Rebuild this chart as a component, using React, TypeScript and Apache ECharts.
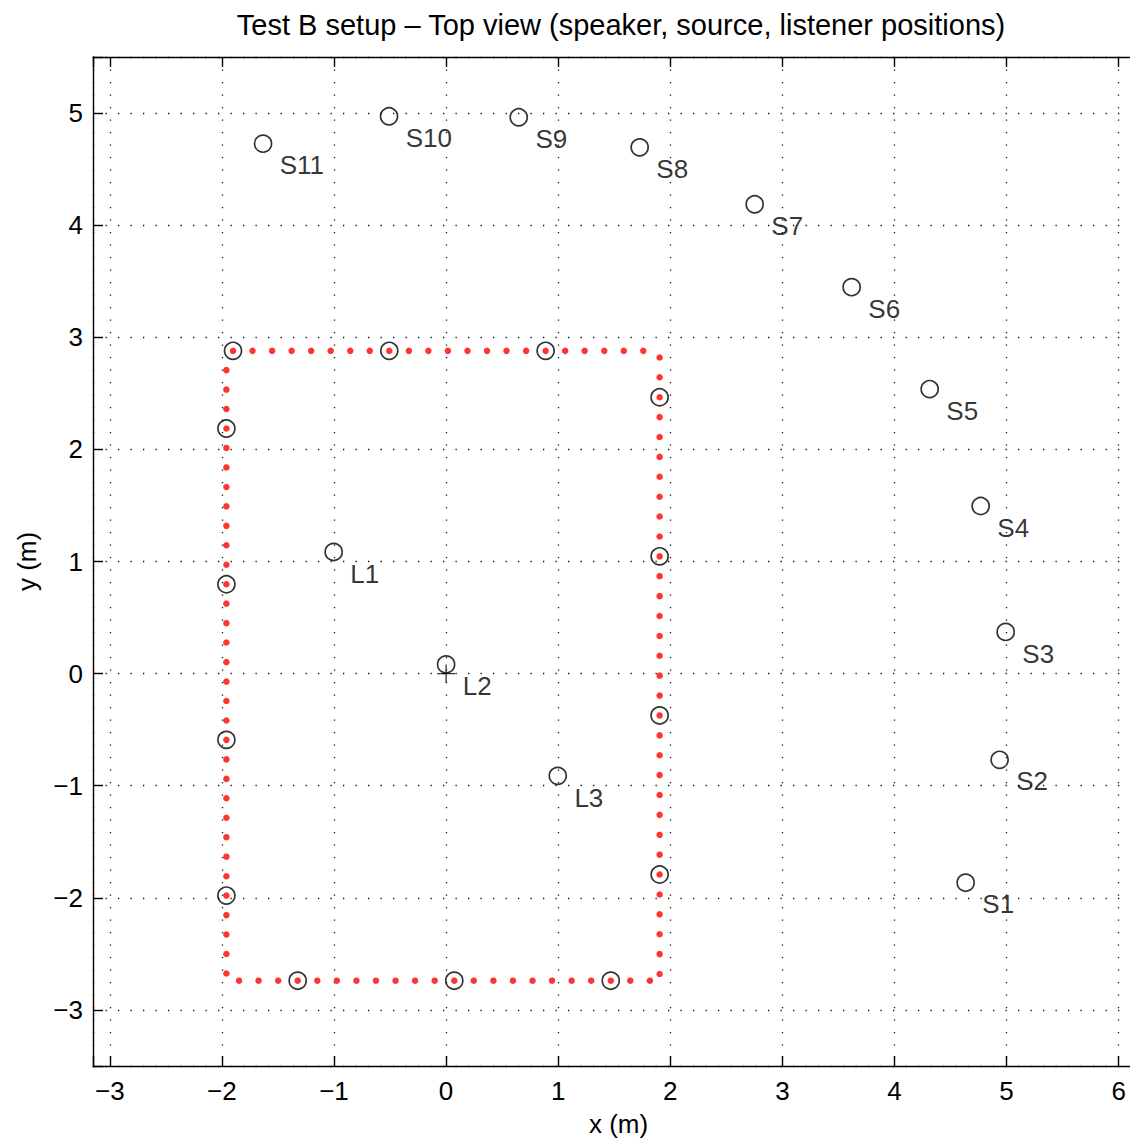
import React, { useEffect, useRef } from 'react';
import * as echarts from 'echarts';

// ---------- texts ----------
const titleText = 'Test B setup – Top view (speaker, source, listener positions)';
const xAxisName = 'x (m)';
const yAxisName = 'y (m)';

// ---------- axis ranges ----------
const X_MIN = -3.15;
const X_MAX = 6.226;
const Y_MIN = -3.5;
const Y_MAX = 5.5;

// ---------- speakers (S1..S11) ----------
const speakerLabels = ['S1', 'S2', 'S3', 'S4', 'S5', 'S6', 'S7', 'S8', 'S9', 'S10', 'S11'];
const speakerX = [4.635, 4.938, 4.992, 4.769, 4.314, 3.618, 2.753, 1.727, 0.648, -0.509, -1.633];
const speakerY = [-1.865, -0.769, 0.372, 1.495, 2.538, 3.447, 4.186, 4.694, 4.962, 4.971, 4.727];

// ---------- listeners (L1..L3) ----------
const listenerLabels = ['L1', 'L2', 'L3'];
const listenerX = [-1.003, 0.0, 0.996];
const listenerY = [1.085, 0.082, -0.912];

// ---------- reference point (+) ----------
const originX = [0];
const originY = [0];

// ---------- loudspeaker array (red dots) ----------
const arrayTopY = 2.879;
const arrayTopX = [
  -1.901, -1.727, -1.552, -1.378, -1.204, -1.03, -0.855, -0.681, -0.507, -0.332, -0.158,
  0.016, 0.191, 0.365, 0.539, 0.714, 0.888, 1.062, 1.236, 1.411, 1.585, 1.759,
];
const arrayBottomY = -2.739;
const arrayBottomX = [
  -1.847, -1.673, -1.498, -1.324, -1.149, -0.975, -0.8, -0.626, -0.451, -0.277, -0.102,
  0.073, 0.247, 0.422, 0.596, 0.771, 0.945, 1.12, 1.294, 1.469, 1.643, 1.818,
];
const arrayLeftX = -1.96;
const arrayLeftY = [
  2.707, 2.533, 2.36, 2.186, 2.013, 1.839, 1.665, 1.492, 1.318, 1.145, 0.971, 0.797,
  0.624, 0.45, 0.277, 0.103, -0.071, -0.244, -0.418, -0.591, -0.765, -0.939, -1.112,
  -1.286, -1.459, -1.633, -1.807, -1.98, -2.154, -2.327, -2.501, -2.675,
];
const arrayRightX = 1.905;
const arrayRightY = [
  2.82, 2.643, 2.465, 2.288, 2.11, 1.933, 1.756, 1.578, 1.401, 1.223, 1.046, 0.869,
  0.691, 0.514, 0.336, 0.159, -0.018, -0.196, -0.373, -0.551, -0.728, -0.905, -1.083,
  -1.26, -1.438, -1.615, -1.792, -1.97, -2.147, -2.325, -2.502, -2.679,
];

// ---------- sources on the array (open circles) ----------
const sourceX = [-1.901, -0.507, 0.888, 1.905, 1.905, 1.905, 1.905, -1.324, 0.073, 1.469, -1.96, -1.96, -1.96, -1.96];
const sourceY = [2.879, 2.879, 2.879, 2.465, 1.046, -0.373, -1.792, -2.739, -2.739, -2.739, 2.186, 0.797, -0.591, -1.98];

const FONT = '"Liberation Sans", Arial, Helvetica, sans-serif';

function fmtTick(v: number): string {
  if (Math.abs(v - Math.round(v)) > 1e-6) return '';
  const r = Math.round(v);
  return r < 0 ? '\u2212' + Math.abs(r) : String(r);
}

export default function App() {
  const ref = useRef<HTMLDivElement>(null);

  useEffect(() => {
    if (!ref.current) return;
    const chart = echarts.init(ref.current, null, { renderer: 'svg' });

    const arrayData: number[][] = [
      ...arrayTopX.map((x) => [x, arrayTopY]),
      ...arrayRightY.map((y) => [arrayRightX, y]),
      ...arrayBottomX.map((x) => [x, arrayBottomY]),
      ...arrayLeftY.map((y) => [arrayLeftX, y]),
    ];
    const sourceData = sourceX.map((x, i) => [x, sourceY[i]]);
    const speakerData = speakerX.map((x, i) => ({ value: [x, speakerY[i]], name: speakerLabels[i] }));
    const listenerData = listenerX.map((x, i) => ({ value: [x, listenerY[i]], name: listenerLabels[i] }));
    const originData = originX.map((x, i) => [x, originY[i]]);

    const circleStyle = { color: 'rgba(0,0,0,0)', borderColor: '#000', borderWidth: 1.7 };
    const labelStyle = {
      show: true,
      position: [26, 31] as [number, number],
      align: 'left',
      verticalAlign: 'middle',
      formatter: '{b}',
      fontFamily: FONT,
      fontSize: 26,
      color: '#000',
    };

    const axisCommon = {
      type: 'value',
      minInterval: 1,
      maxInterval: 1,
      axisLine: { show: true, onZero: false, lineStyle: { color: '#000', width: 1.4 } },
      axisTick: { show: true, inside: true, length: 10, lineStyle: { color: '#000', width: 1.4 } },
    };

    const gridLine = { show: true, lineStyle: { color: '#111', width: 1.3, type: [1.3, 11.2] } };

    chart.setOption({
      animation: false,
      backgroundColor: '#fff',
      graphic: [
        {
          type: 'text',
          x: 621,
          y: 25,
          style: {
            text: titleText,
            fontFamily: FONT,
            fontSize: 29,
            fill: '#000',
            align: 'center',
            verticalAlign: 'middle',
          },
        },
      ],
      grid: {
        left: 93,
        top: 57,
        width: 1051,
        height: 1009,
        show: false,
        containLabel: false,
        outerBoundsMode: 'none',
      },
      xAxis: [
        {
          ...axisCommon,
          position: 'bottom',
          min: X_MIN,
          max: X_MAX,
          name: xAxisName,
          nameLocation: 'middle',
          nameGap: 45,
          nameTextStyle: { fontFamily: FONT, fontSize: 26, color: '#000' },
          axisLabel: { show: true, margin: 12, fontFamily: FONT, fontSize: 26, color: '#000', formatter: fmtTick },
          splitLine: gridLine,
        },
        {
          ...axisCommon,
          position: 'top',
          min: X_MIN,
          max: X_MAX,
          axisLabel: { show: false },
          splitLine: { show: false },
        },
      ],
      yAxis: [
        {
          ...axisCommon,
          position: 'left',
          min: Y_MIN,
          max: Y_MAX,
          name: yAxisName,
          nameLocation: 'middle',
          nameGap: 53,
          nameRotate: 90,
          nameTextStyle: { fontFamily: FONT, fontSize: 26, color: '#000' },
          axisLabel: { show: true, margin: 10, fontFamily: FONT, fontSize: 26, color: '#000', formatter: fmtTick },
          splitLine: gridLine,
        },
        {
          ...axisCommon,
          position: 'right',
          min: Y_MIN,
          max: Y_MAX,
          axisLabel: { show: false },
          splitLine: { show: false },
        },
      ],
      series: [
        {
          name: 'Sources',
          type: 'scatter',
          silent: true,
          data: sourceData,
          symbol: 'circle',
          symbolSize: 17,
          itemStyle: circleStyle,
          z: 2,
        },
        {
          name: 'Array',
          type: 'scatter',
          silent: true,
          data: arrayData,
          symbol: 'circle',
          symbolSize: 6.5,
          itemStyle: { color: '#ff0000' },
          z: 3,
        },
        {
          name: 'Speakers',
          type: 'scatter',
          silent: true,
          data: speakerData,
          symbol: 'circle',
          symbolSize: 17,
          itemStyle: circleStyle,
          label: labelStyle,
          z: 4,
        },
        {
          name: 'Listeners',
          type: 'scatter',
          silent: true,
          data: listenerData,
          symbol: 'circle',
          symbolSize: 17,
          itemStyle: circleStyle,
          label: labelStyle,
          z: 4,
        },
        {
          name: 'Origin',
          type: 'scatter',
          silent: true,
          data: originData,
          symbol: 'path://M0,-10L0,10M-10,0L10,0',
          symbolSize: 18,
          itemStyle: { color: 'rgba(0,0,0,0)', borderColor: '#000', borderWidth: 1.3 },
          z: 4,
        },
      ],
    });

    return () => chart.dispose();
  }, []);

  return (
    <div
      ref={ref}
      style={{ position: 'absolute', left: 0, top: 0, width: 1130, height: 1140, background: '#fff' }}
    />
  );
}
